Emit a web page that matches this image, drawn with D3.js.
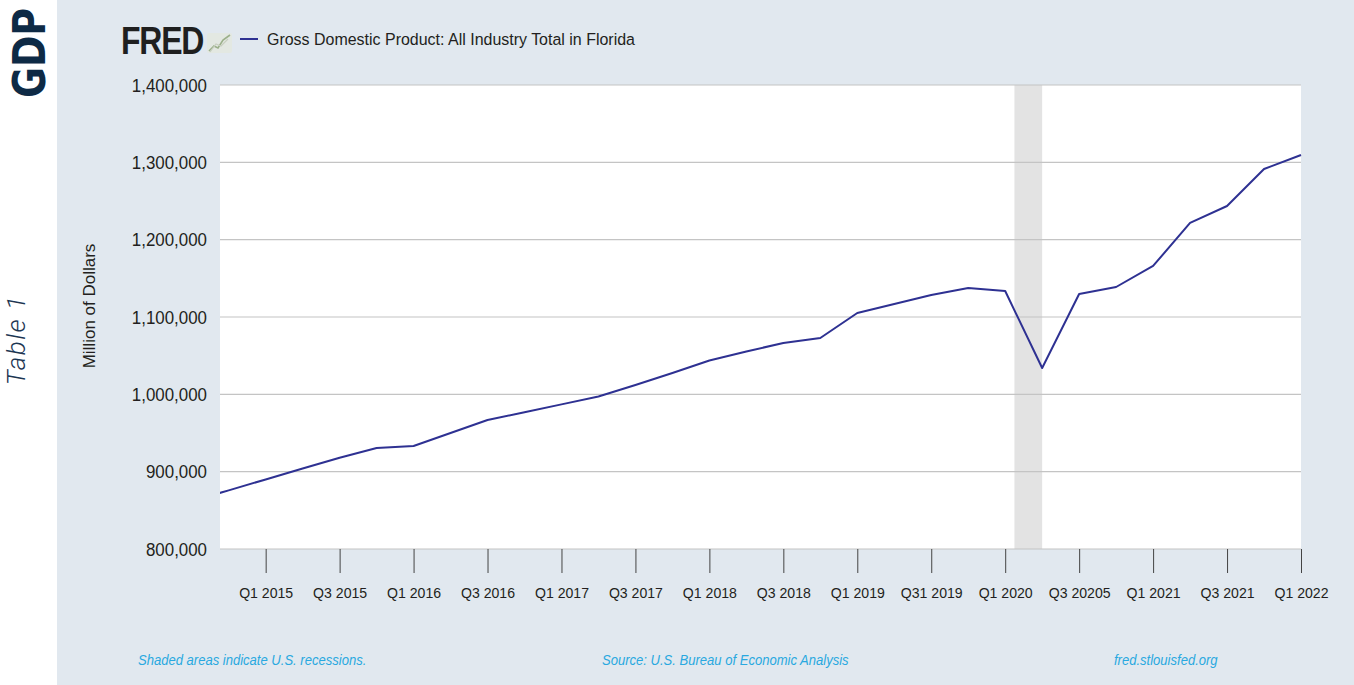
<!DOCTYPE html>
<html>
<head>
<meta charset="utf-8">
<script src="https://cdn.jsdelivr.net/npm/d3@7"></script>
<style>
  html, body { margin: 0; padding: 0; background: #ffffff; }
  svg { display: block; }
  .narrow { font-family: "Liberation Sans", Arial, sans-serif; }
</style>
</head>
<body>
<svg id="chart" width="1354" height="685"></svg>
<script>
// ---- data ----
const seriesName = "Gross Domestic Product: All Industry Total in Florida";
// quarter index 0 = Q1 2015
const quarters = ["Q3 2014","Q4 2014","Q1 2015","Q2 2015","Q3 2015","Q4 2015","Q1 2016","Q2 2016","Q3 2016","Q4 2016",
  "Q1 2017","Q2 2017","Q3 2017","Q4 2017","Q1 2018","Q2 2018","Q3 2018","Q4 2018","Q1 2019","Q2 2019","Q3 2019","Q4 2019",
  "Q1 2020","Q2 2020","Q3 2020","Q4 2020","Q1 2021","Q2 2021","Q3 2021","Q4 2021","Q1 2022"];
const quarterIndex = d3.range(-2, 29);
const gdpValues = [862000, 875800, 889900, 904000, 918100, 930600, 933200, 950000, 966800, 976900,
  987000, 997200, 1012100, 1027600, 1043800, 1055400, 1066400, 1072800, 1105200, 1116800, 1128400, 1137500,
  1133600, 1034000, 1129700, 1138800, 1166000, 1221600, 1243500, 1291400, 1309500];
const yTicks = [800000, 900000, 1000000, 1100000, 1200000, 1300000, 1400000];
const xTickIndex = [0, 2, 4, 6, 8, 10, 12, 14, 16, 18, 20, 22, 24, 26, 28];
const xTickLabels = ["Q1 2015","Q3 2015","Q1 2016","Q3 2016","Q1 2017","Q3 2017","Q1 2018","Q3 2018",
  "Q1 2019","Q31 2019","Q1 2020","Q3 20205","Q1 2021","Q3 2021","Q1 2022"];
const recessionStart = [20.25];
const recessionEnd = [21.0];
const footerTexts = ["Shaded areas indicate U.S. recessions.", "Source: U.S. Bureau of Economic Analysis", "fred.stlouisfed.org"];

// horizontal condensing of text around its own x anchor
function condense(sel, sx) {
  sel.each(function() {
    const t = d3.select(this);
    const ax = +t.attr("x") || 0;
    t.attr("transform", `translate(${ax},0) scale(${sx},1) translate(${-ax},0)`);
  });
}

// ---- layout ----
const svg = d3.select("#chart");
const plot = { left: 220, right: 1301, top: 85, bottom: 549 };

// page panels
svg.append("rect").attr("x", 0).attr("y", 0).attr("width", 57).attr("height", 685).attr("fill", "#ffffff");
svg.append("rect").attr("x", 57).attr("y", 0).attr("width", 1297).attr("height", 685).attr("fill", "#e1e8ef");

// side titles
svg.append("text")
  .attr("transform", "translate(45,53) rotate(-90) scale(0.86,1)")
  .attr("text-anchor", "middle")
  .attr("font-family", "'DejaVu Sans', sans-serif")
  .attr("font-weight", 700)
  .attr("font-size", 44)
  .attr("fill", "#0e2a45")
  .text("GDP");
svg.append("text")
  .attr("transform", "translate(24.5,340) rotate(-90)")
  .attr("text-anchor", "middle")
  .attr("font-family", "Roboto, 'DejaVu Sans', sans-serif")
  .attr("font-style", "italic")
  .attr("font-weight", 300)
  .attr("font-size", 26)
  .attr("letter-spacing", 1.5)
  .attr("fill", "#1c3652")
  .text("Table 1");

// scales
const x = d3.scaleLinear().domain([-1.235, 28]).range([plot.left, plot.right]);
const y = d3.scaleLinear().domain([800000, 1400000]).range([plot.bottom, plot.top]);

// plot background
svg.append("rect").attr("x", plot.left).attr("y", plot.top)
  .attr("width", plot.right - plot.left).attr("height", plot.bottom - plot.top)
  .attr("fill", "#ffffff");

// recession shading
svg.selectAll("rect.rec").data(recessionStart).enter().append("rect")
  .attr("class", "rec")
  .attr("x", (d, i) => x(d))
  .attr("y", plot.top)
  .attr("width", (d, i) => x(recessionEnd[i]) - x(d))
  .attr("height", plot.bottom - plot.top)
  .attr("fill", "#e3e3e3");

// gridlines
svg.selectAll("line.grid").data(yTicks).enter().append("line")
  .attr("class", "grid")
  .attr("x1", plot.left).attr("x2", plot.right)
  .attr("y1", d => y(d)).attr("y2", d => y(d))
  .attr("stroke", "#c4c4c4").attr("stroke-width", 1.2);

// y axis labels
const yAxis = d3.axisLeft(y).tickValues(yTicks).tickFormat(d3.format(",")).tickSize(0).tickPadding(13);
const gy = svg.append("g").attr("transform", `translate(${plot.left},0)`).call(yAxis);
gy.select(".domain").remove();
gy.selectAll("text").attr("class", "narrow").attr("font-size", 19).attr("fill", "#231f20");
condense(gy.selectAll("text"), 0.89);

// x axis
const xAxis = d3.axisBottom(x).tickValues(xTickIndex)
  .tickFormat((d, i) => xTickLabels[i]).tickSize(24).tickPadding(14);
const gx = svg.append("g").attr("transform", `translate(0,${plot.bottom})`).call(xAxis);
gx.select(".domain").remove();
gx.selectAll(".tick line").attr("stroke", "#444").attr("stroke-width", 1);
gx.selectAll("text").attr("class", "narrow").attr("font-size", 15.5).attr("fill", "#231f20");
condense(gx.selectAll("text"), 0.91);

// y axis title
svg.append("text")
  .attr("class", "narrow")
  .attr("transform", "translate(95,306) rotate(-90)")
  .attr("text-anchor", "middle")
  .attr("font-size", 17)
  .attr("fill", "#231f20")
  .text("Million of Dollars");

// line
svg.append("clipPath").attr("id", "clip").append("rect")
  .attr("x", plot.left).attr("y", plot.top)
  .attr("width", plot.right - plot.left + 2).attr("height", plot.bottom - plot.top);
const line = d3.line().x((d, i) => x(quarterIndex[i])).y(d => y(d));
svg.append("path")
  .datum(gdpValues)
  .attr("clip-path", "url(#clip)")
  .attr("d", line)
  .attr("fill", "none")
  .attr("stroke", "#2e3192")
  .attr("stroke-width", 2)
  .attr("stroke-linejoin", "round");

// FRED logo
const logo = svg.append("g");
const fred = logo.append("text")
  .attr("x", 121).attr("y", 54)
  .attr("font-family", "'Liberation Sans', Arial, sans-serif")
  .attr("font-weight", 700)
  .attr("font-size", 39)
  .attr("letter-spacing", -1.5)
  .attr("fill", "#1f1f1f")
  .text("FRED");
condense(fred, 0.82);
// small graph icon
logo.append("rect").attr("x", 207).attr("y", 33).attr("width", 25).attr("height", 20)
  .attr("fill", "#e3e8e2").attr("rx", 2);
logo.append("path").attr("d", "M209,51 L214,46 L218,48 L223,40 L230,35")
  .attr("fill", "none").attr("stroke", "#9bb08a").attr("stroke-width", 1.6);
logo.append("path").attr("d", "M210,52 L216,44 L221,46 L228,39")
  .attr("fill", "none").attr("stroke", "#c8cfc0").attr("stroke-width", 1.2);

// legend
svg.append("line").attr("x1", 240).attr("x2", 258).attr("y1", 39).attr("y2", 39)
  .attr("stroke", "#2e3192").attr("stroke-width", 2);
const leg = svg.append("text").attr("class", "narrow")
  .attr("x", 267).attr("y", 45)
  .attr("font-size", 17)
  .attr("fill", "#231f20")
  .text(seriesName);
condense(leg, 0.94);

// footer
const footerX = [138, 602, 1114];
const foot = svg.selectAll("text.foot").data(footerTexts).enter().append("text")
  .attr("class", "narrow foot")
  .attr("x", (d, i) => footerX[i]).attr("y", 665)
  .attr("font-size", 14.5)
  .attr("font-style", "italic")
  .attr("fill", "#29a8e0")
  .text(d => d);
condense(foot, 0.9);
</script>
</body>
</html>
